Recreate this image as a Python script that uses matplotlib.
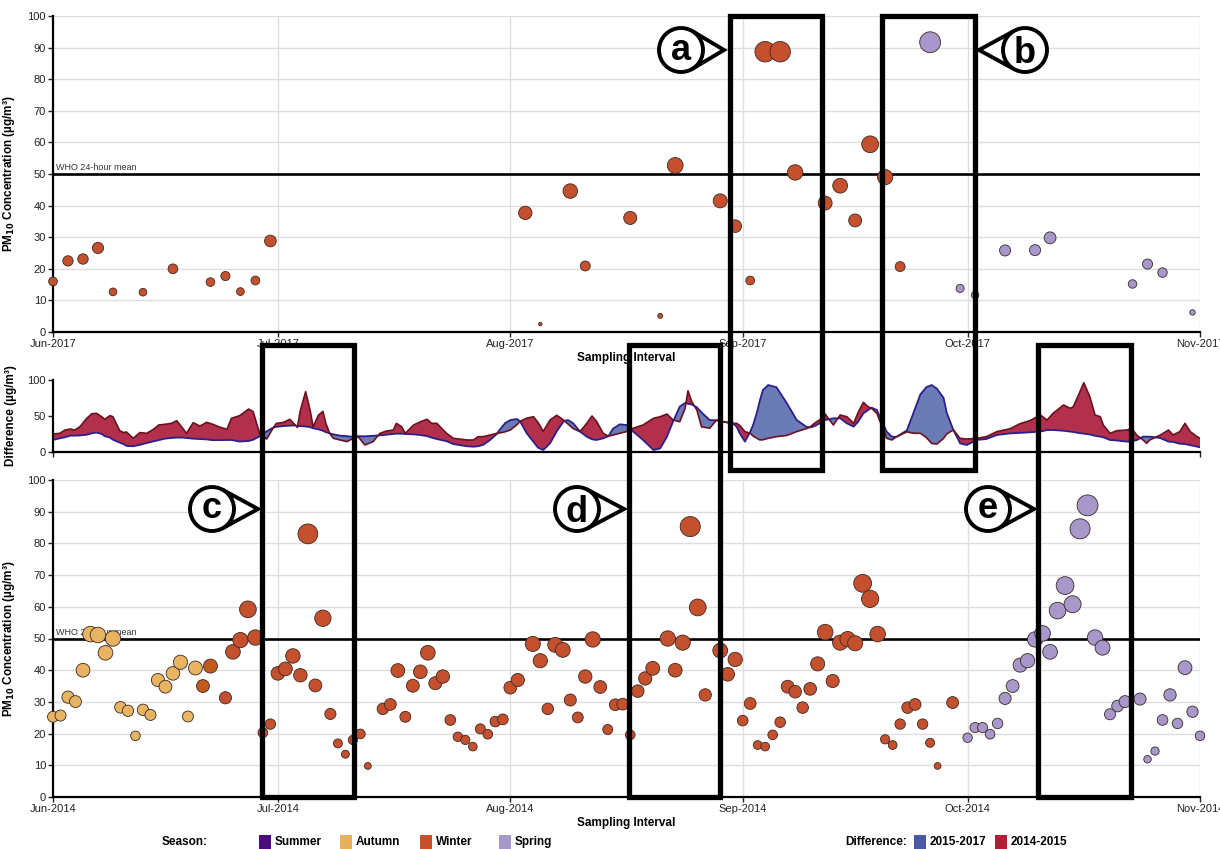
import numpy as np
import matplotlib
matplotlib.use("Agg")
import matplotlib.pyplot as plt
from matplotlib.patches import Rectangle, Circle, Polygon

plt.rcParams["font.family"] = ["Liberation Sans", "DejaVu Sans"]

FIG_W, FIG_H = 1220, 849

# x positions are days since 1 June
MONTH_DAYS = [0, 30, 61, 92, 122, 153]
TOP_MONTHS = ["Jun-2017", "Jul-2017", "Aug-2017", "Sep-2017", "Oct-2017", "Nov-2017"]
BOTTOM_MONTHS = ["Jun-2014", "Jul-2014", "Aug-2014", "Sep-2014", "Oct-2014", "Nov-2014"]

# 2017 samples
top_day = [0, 2, 4, 6, 8, 12, 16, 21, 23, 25, 27, 29,
           63, 65, 69, 71, 77, 81, 83, 89, 91, 93, 95, 97, 99,
           103, 105, 107, 109, 111, 113,
           117, 121, 123, 127, 131, 133, 144, 146, 148, 152]
top_pm10 = [16, 22.5, 23.1, 26.6, 12.7, 12.6, 20, 15.8, 17.7, 12.8, 16.3, 28.8,
            37.7, 2.5, 44.6, 20.9, 36.1, 5.1, 52.7, 41.5, 33.5, 16.3, 88.7, 88.7, 50.5,
            40.8, 46.3, 35.3, 59.4, 49, 20.7,
            91.7, 13.8, 11.7, 25.8, 25.9, 29.8, 15.2, 21.5, 18.8, 6.2]
top_season = ["Winter"] * 31 + ["Spring"] * 10

# 2014 samples
bottom_day = [0, 1, 2, 3, 4, 5, 6, 7, 8, 9, 10, 11, 12, 13, 14, 15, 16, 17, 18, 19,
              20, 21,
              23, 24, 25, 26, 27, 28, 29, 30, 31, 32, 33, 34, 35, 36, 37, 38, 39, 40, 41, 42,
              44, 45, 46, 47, 48, 49, 50, 51, 52, 53, 54, 55, 56, 57, 58, 59, 60, 61, 62,
              64, 65, 66, 67, 68, 69, 70, 71, 72, 73, 74, 75, 76, 77, 78, 79, 80,
              82, 83, 84, 85, 86, 87,
              89, 90, 91, 92, 93, 94, 95, 96, 97, 98, 99, 100, 101, 102, 103, 104, 105,
              106, 107, 108, 109, 110, 111, 112, 113, 114, 115, 116, 117, 118,
              120,
              122, 123, 124, 125, 126, 127, 128, 129, 130, 131, 132, 133, 134, 135, 136,
              137, 138, 139, 140, 141, 142, 143,
              145, 146, 147, 148, 149, 150, 151, 152, 153]
bottom_pm10 = [25.3, 25.7, 31.5, 30.1, 40.0, 51.4, 51.1, 45.5, 50.0, 28.3, 27.2, 19.3, 27.5,
               25.9, 36.9, 34.8, 39.0, 42.5, 25.4, 40.7,
               35.0, 41.3,
               31.3, 45.8, 49.5, 59.2, 50.3, 20.3, 23.0, 39.0, 40.4, 44.5, 38.4, 83.0, 35.2,
               56.4, 26.2, 16.9, 13.5, 18.0, 19.9, 9.8,
               27.8, 29.2, 39.9, 25.3, 35.1, 39.5, 45.5, 35.9, 38.0, 24.3, 19.0, 18.0, 15.9,
               21.5, 19.8, 23.8, 24.5, 34.5, 36.9,
               48.3, 43.0, 27.8, 48.0, 46.4, 30.6, 25.1, 38.0, 49.7, 34.7, 21.3, 29.1, 29.3,
               19.6, 33.4, 37.4, 40.6,
               50.0, 40.0, 48.7, 85.3, 59.8, 32.2,
               46.2, 38.7, 43.4, 24.1, 29.5, 16.4, 15.9, 19.6, 23.6, 34.8, 33.2, 28.2, 34.1,
               42.0, 52.0, 36.6, 48.7, 49.8, 48.5, 67.4, 62.5, 51.4, 18.2, 16.4, 23.0, 28.2,
               29.2, 23.0, 17.1, 9.8,
               29.8,
               18.7, 21.9, 21.9, 19.8, 23.2, 31.1, 35.0, 41.6, 43.0, 49.7, 51.6, 45.8, 58.8,
               66.7, 60.8, 84.6, 92.0, 50.3, 47.1, 26.1, 28.7, 30.1,
               30.9, 11.9, 14.5, 24.3, 32.2, 23.2, 40.8, 26.9, 19.3]
bottom_season = ["Autumn"] * 20 + ["Transition"] * 2 + ["Winter"] * 93 + ["Spring"] * 31

# smoothed differences between periods
diff_day = [0.0, 0.9, 1.6, 2.3, 2.9, 3.6, 4.5, 5.2, 5.8, 6.5, 6.9, 7.6, 8.0, 8.9, 9.4, 9.8,
            10.7, 11.6, 12.5, 13.4, 14.1, 14.9, 15.8, 16.5, 17.2, 17.8, 18.7, 19.6, 20.5,
            21.2, 22.3, 23.2, 23.8, 24.9, 26.1, 26.7, 27.6, 28.5, 29.4, 29.8, 30.7, 31.6,
            32.3, 32.6, 33.0, 33.7, 34.3, 34.7, 35.4, 36.0, 36.4, 36.9, 37.4, 38.3, 39.2,
            39.8, 40.7, 41.6, 42.7, 43.6, 44.5, 45.4, 45.8, 46.5, 47.0, 48.1, 49.0, 49.9,
            50.5, 51.2, 52.5, 53.4, 55.2, 56.1, 56.7, 57.4, 58.3, 59.2, 59.6, 60.3, 61.0,
            61.9, 62.3, 63.2, 64.1, 64.7, 65.4, 66.3, 67.2, 68.1, 68.7, 69.4, 70.3, 71.2,
            71.9, 72.5, 73.4, 74.1, 74.7, 75.6, 76.5, 77.4, 78.7, 80.1, 81.0, 81.9, 82.7,
            83.6, 84.3, 84.7, 85.2, 85.9, 86.5, 87.6, 88.5, 89.4, 90.7, 91.2, 91.6, 92.3,
            93.0, 93.4, 93.9, 94.3, 94.7, 95.4, 96.5, 97.9, 99.2, 100.5, 101.0, 101.6,
            102.3, 103.0, 103.4, 104.1, 105.0, 105.9, 106.8, 107.4, 108.1, 108.7, 109.2,
            109.9, 110.5, 111.2, 111.9, 112.5, 113.9, 114.8, 115.7, 116.5, 117.2, 117.9,
            118.8, 119.2, 120.1, 121.0, 121.9, 123.2, 124.5, 125.9, 127.7, 129.0, 130.3,
            131.7, 132.6, 133.4, 134.8, 135.7, 136.1, 136.8, 137.5, 138.3, 139.0, 139.7,
            140.1, 141.0, 141.9, 143.2, 143.9, 144.6, 145.4, 145.9, 146.3, 147.7, 148.8,
            149.4, 150.3, 151.0, 151.7, 152.6, 153.0]
diff_2014_2015 = [25, 25.9, 30.5, 31.9, 30.5, 35.2, 46.8, 53.2, 53.7, 49, 45.4, 50.5, 49, 29.6,
                  27, 27.8, 19, 27, 25.9, 31.5, 37.5, 38.4, 39.8, 43.5, 34.3, 25.9, 40.7, 36,
                  41.2, 38.9, 34.3, 31.5, 46.8, 50.5, 59.7, 56, 24.5, 18, 34, 39.8, 41, 45.4,
                  37.5, 34.3, 58, 83.8, 58, 35, 51, 56.5, 39.8, 25.9, 19, 16.7, 14.4, 17.6,
                  21.3, 9.7, 14.4, 25.9, 29.2, 30.5, 39.8, 35.2, 25.9, 37.5, 42, 45.4, 39.8,
                  39.8, 25.9, 19, 16.7, 16.7, 21.3, 21.3, 23.6, 25.9, 26.5, 28, 30.5, 38, 42.6,
                  47, 49, 41, 28.7, 44.4, 51, 44.4, 38.9, 32.4, 28.3, 39.8, 50, 42.6, 25.9, 22,
                  23.6, 25.9, 28.3, 33, 37.5, 46.8, 49, 52.8, 44.4, 42, 60, 85, 70, 58, 35, 33,
                  44.4, 42, 39.8, 39.8, 37, 28.3, 26, 22, 19, 16.7, 17, 19, 21.3, 23, 28.3,
                  32.4, 35, 40, 45, 52.8, 46.8, 37.5, 51.4, 49, 39.8, 55, 69, 63, 60.6, 53.7,
                  37.5, 19, 16.7, 21, 28, 26, 26, 20, 12, 11, 19, 25, 30.6, 19, 18, 19, 21.3,
                  28.3, 32.4, 39.4, 43.5, 51.4, 44.4, 53.7, 65.3, 60.6, 63, 79.2, 96.3, 76.9,
                  51.4, 49, 37.5, 25.9, 29.6, 30.5, 32.4, 23.1, 16.7, 12, 16.7, 23.6, 30.5,
                  23.6, 28.3, 39.8, 28.3, 21.3, 19]
diff_2015_2017 = [16.7, 19, 20.5, 22.7, 22.7, 23, 24, 26, 27, 25, 22, 20, 17, 13, 11, 8.5, 8,
                  10, 12.5, 14.8, 16.5, 18.5, 19.5, 20, 20, 19.5, 18.5, 18, 17.5, 16.5, 16.5,
                  16.7, 16.7, 14.5, 15.3, 17, 22, 28.7, 34, 35, 36, 36.5, 37, 36, 36, 35.5,
                  34.5, 33, 31.5, 29.5, 27.5, 26, 24.5, 22.7, 22, 21.3, 22, 21.8, 22.5, 23.1,
                  24, 25, 25.5, 25.4, 25, 24.5, 23.6, 22, 20, 18, 15, 11, 8, 7.4, 8, 10, 16.7,
                  25, 31, 40, 44.4, 45.8, 42.6, 25.9, 14, 6, 2.8, 12, 28.7, 42.6, 44.4, 39.8,
                  28.3, 21.3, 17.6, 16.7, 19, 22, 32.4, 38.4, 37.5, 28.3, 16.7, 2.8, 5, 21.3,
                  42, 63, 68, 67, 66, 62, 55, 44.4, 44, 42, 39.8, 35, 26, 14.4, 28, 38, 55, 72,
                  86, 93, 90, 67.6, 44.4, 35, 34, 36, 40, 44.4, 45.4, 46.8, 46.8, 39.8, 35.2,
                  42, 53.7, 58, 61.6, 58.3, 44.4, 28.2, 21.3, 21, 30, 55, 80, 90, 93, 88, 75,
                  55, 30.6, 12, 9.7, 16.7, 18, 23.6, 25.9, 26.5, 27.3, 28.3, 30.5, 30.5, 29.5,
                  28.3, 27.8, 26.4, 25.5, 24.3, 22.5, 21.3, 20.4, 16.7, 16, 14.4, 14.8, 16.7,
                  21.3, 21.3, 21.3, 19.4, 14.4, 14, 11.5, 11, 9.5, 7.5, 6.5]

assert len(top_day) == len(top_pm10) == len(top_season)
assert len(bottom_day) == len(bottom_pm10) == len(bottom_season)
assert len(diff_day) == len(diff_2014_2015) == len(diff_2015_2017)

SEASON_COLORS = {
    "Summer": "#4b0c7f",
    "Autumn": "#e8b462",
    "Winter": "#c5502e",
    "Spring": "#a797cb",
    "Transition": "#c25a1c",
}
DIFF_FILL = {"2015-2017": "#6a7bb5", "2014-2015": "#b2304c"}
DIFF_LINE = {"2015-2017": "#2b1f8c", "2014-2015": "#6a1220"}
LEGEND_SEASON = {"Summer": "#4b0c7f", "Autumn": "#e6b05f", "Winter": "#c8502c", "Spring": "#a897c9"}
LEGEND_DIFF = {"2015-2017": "#4a5aa6", "2014-2015": "#b51d36"}

fig = plt.figure(figsize=(FIG_W / 100, FIG_H / 100), dpi=100)


def px_axes(left, top, right, bottom):
    return fig.add_axes([left / FIG_W, 1 - bottom / FIG_H,
                         (right - left) / FIG_W, (bottom - top) / FIG_H])


ax_top = px_axes(53, 16, 1200, 332)
ax_diff = px_axes(53, 380, 1200, 452)
ax_bot = px_axes(53, 480, 1200, 797)


def style_axis(ax):
    for side in ("top", "right"):
        ax.spines[side].set_visible(False)
    for side in ("left", "bottom"):
        ax.spines[side].set_linewidth(1.6)
    ax.tick_params(labelsize=8, colors="#222222", length=3.5, width=1, pad=1.5)


def draw_concentration(ax, days, values, seasons, month_labels):
    ax.set_xlim(0, 153)
    ax.set_ylim(0, 100)
    ax.set_xticks(MONTH_DAYS)
    ax.set_xticklabels(month_labels)
    ax.set_yticks(range(0, 101, 10))
    ax.grid(True, color="#dedede", linewidth=1)
    ax.set_axisbelow(True)
    style_axis(ax)
    ax.axhline(50, color="black", lw=1.9, zorder=2)
    ax.text(0.4, 50.6, "WHO 24-hour mean", fontsize=6.5, color="#333333", va="bottom", zorder=2)
    colors = [SEASON_COLORS[s] for s in seasons]
    sizes = [2.45 * v for v in values]
    ax.scatter(days, values, s=sizes, c=colors, edgecolors="#3a2a24", linewidths=0.6,
               zorder=3, clip_on=False)
    ax.set_ylabel(r"PM$_\mathbf{10}$ Concentration (µg/m³)", fontsize=8.5, fontweight="bold")
    ax.yaxis.set_label_coords(-0.031, 0.5)
    ax.set_xlabel("Sampling Interval", fontsize=8.5, fontweight="bold")
    ax.xaxis.set_label_coords(0.5, -0.062)


draw_concentration(ax_top, top_day, top_pm10, top_season, TOP_MONTHS)
draw_concentration(ax_bot, bottom_day, bottom_pm10, bottom_season, BOTTOM_MONTHS)

# difference panel
red = np.array(diff_2014_2015)
blue = np.array(diff_2015_2017)
ax_diff.fill_between(diff_day, red, blue, where=red >= blue, interpolate=True,
                     color=DIFF_FILL["2014-2015"], lw=0)
ax_diff.fill_between(diff_day, red, blue, where=red <= blue, interpolate=True,
                     color=DIFF_FILL["2015-2017"], lw=0)
ax_diff.plot(diff_day, blue, color=DIFF_LINE["2015-2017"], lw=1.3)
ax_diff.plot(diff_day, red, color=DIFF_LINE["2014-2015"], lw=1.2)
ax_diff.set_xlim(0, 153)
ax_diff.set_ylim(0, 100)
ax_diff.set_yticks([0, 50, 100])
ax_diff.set_xticks([0, 153])
ax_diff.set_xticklabels([])
style_axis(ax_diff)
ax_diff.set_ylabel("Difference (µg/m³)", fontsize=8.5, fontweight="bold")
ax_diff.yaxis.set_label_coords(-0.031, 0.5)

# annotation layer in pixel coordinates
ov = fig.add_axes([0, 0, 1, 1], zorder=10)
ov.set_xlim(0, FIG_W)
ov.set_ylim(FIG_H, 0)
ov.axis("off")

BOXES = [(730, 16, 822, 470), (882, 16, 975, 470), (262, 345, 354, 797),
         (629, 345, 720, 797), (1038, 345, 1131, 797)]
for left, top, right, bottom in BOXES:
    ov.add_patch(Rectangle((left, top), right - left, bottom - top, fill=False,
                           ec="black", lw=3.8, joinstyle="miter"))

CALLOUTS = [("a", 681, 50, 724), ("b", 1025, 50, 979), ("c", 212, 509, 258),
            ("d", 577, 509, 624), ("e", 988, 509, 1034)]
R = 22
for letter, cx, cy, tip in CALLOUTS:
    dist = abs(tip - cx)
    base = 0.0 if tip > cx else np.pi
    phi = np.arccos(R / dist)
    p1 = (cx + R * np.cos(base + phi), cy + R * np.sin(base + phi))
    p2 = (cx + R * np.cos(base - phi), cy + R * np.sin(base - phi))
    ov.add_patch(Polygon([p1, (tip, cy), p2], closed=False, fc="white", ec="black",
                         lw=2.8, joinstyle="miter"))
    ov.add_patch(Circle((cx, cy), R, fc="white", ec="black", lw=2.8))
    rise = 12.5 if letter in "bd" else 9.5
    ov.text(cx, cy + rise, letter, fontsize=26, fontweight="bold", ha="center",
            va="baseline")

# legend row
LEG_Y = 842
ov.text(185, LEG_Y, "Season:", fontsize=8.5, fontweight="bold", ha="center", va="center")
for (name, color), x0 in zip(LEGEND_SEASON.items(), [259, 340, 420, 499]):
    ov.add_patch(Rectangle((x0, LEG_Y - 7), 12, 14, fc=color, ec="none"))
    ov.text(x0 + 16, LEG_Y, name, fontsize=8.5, fontweight="bold", ha="left", va="center")
ov.text(876, LEG_Y, "Difference:", fontsize=8.5, fontweight="bold", ha="center", va="center")
for (name, color), x0 in zip(LEGEND_DIFF.items(), [914, 995]):
    ov.add_patch(Rectangle((x0, LEG_Y - 7), 12, 14, fc=color, ec="none"))
    ov.text(x0 + 16, LEG_Y, name, fontsize=8.5, fontweight="bold", ha="left", va="center")

fig.savefig("out.png", dpi=100)
